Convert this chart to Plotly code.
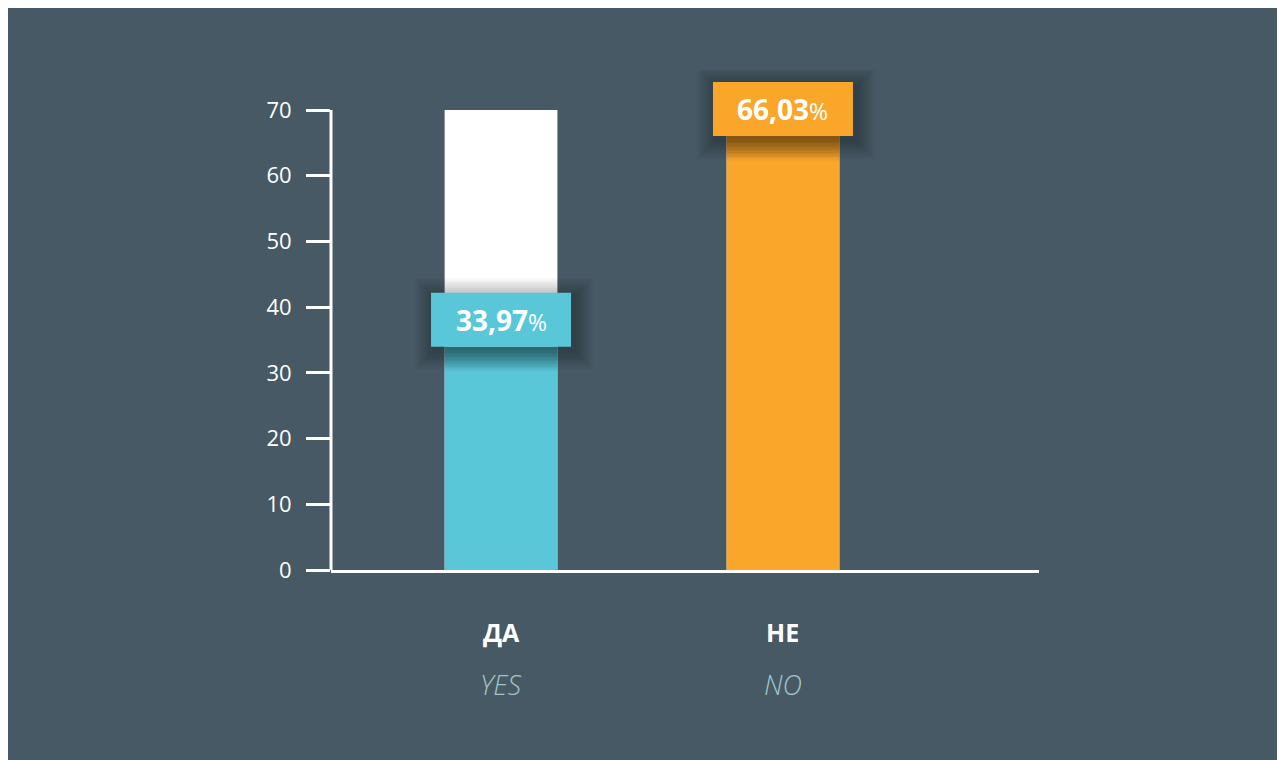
import plotly.graph_objects as go

# ---- data ----
categories = ["ДА", "НЕ"]
subtitles = ["YES", "NO"]
values = [33.97, 66.03]
scale_max = [70, 70]
tick_vals = [0, 10, 20, 30, 40, 50, 60, 70]

# ---- style ----
BG = "#475965"
TEAL = "#59c7d8"
ORANGE = "#f9a62b"
SUB = "#a1c5c6"
bar_colors = [TEAL, ORANGE]
FONT = "Open Sans"

W, H = 1277, 752
ML, MR, MT, MB = 323, 246, 62, 190
plot_w = W - ML - MR
plot_h = H - MT - MB
px_per_unit_y = 460 / 70.0
y_top = plot_h / px_per_unit_y
x_range = [-0.603, 1.908]
px_per_unit_x = plot_w / (x_range[1] - x_range[0])

def dx(px):
    return px / px_per_unit_x

def dy(px):
    return px / px_per_unit_y

fig = go.Figure()
fig.add_trace(go.Bar(x=categories, y=scale_max, marker=dict(color="#ffffff", line=dict(width=0)),
                     width=0.4, hoverinfo="skip", showlegend=False))
fig.add_trace(go.Bar(x=categories, y=values, marker=dict(color=bar_colors, line=dict(width=0)),
                     width=0.4, hoverinfo="skip", showlegend=False))

shapes = []
annotations = []
box_w = dx(140)
box_h = dy(54)
bar_half = 0.2
for i, (cat, v, col) in enumerate(zip(categories, values, bar_colors)):
    # shadow on bar under box
    for k in range(1, 8):
        shapes.append(dict(type="rect", xref="x", yref="y",
                           x0=i - bar_half, x1=i + bar_half, y0=v - dy(3.5 * k), y1=v,
                           fillcolor="rgba(0,0,0,0.045)", line=dict(width=0), layer="above"))
    # soft drop shadow around box
    for k in range(1, 9):
        s = 2.3 * k
        shapes.append(dict(type="rect", xref="x", yref="y",
                           x0=i - box_w / 2 - dx(s) + dx(3), x1=i + box_w / 2 + dx(s) + dx(3),
                           y0=v - dy(s) - dy(4), y1=v + box_h + dy(s) - dy(4),
                           fillcolor="rgba(0,0,0,0.035)", line=dict(width=0), layer="above"))
    shapes.append(dict(type="rect", xref="x", yref="y",
                       x0=i - box_w / 2, x1=i + box_w / 2, y0=v, y1=v + box_h,
                       fillcolor=col, line=dict(width=0), layer="above"))
    txt = f"{v:.2f}".replace(".", ",")
    annotations.append(dict(x=i, y=v + box_h / 2, xref="x", yref="y", showarrow=False,
                            text=f"<b>{txt}</b><span style='font-size:23px'>%</span>",
                            font=dict(family=FONT, size=28, color="#ffffff"),
                            xanchor="center", yanchor="middle"))
    annotations.append(dict(x=i, y=-62 / plot_h, xref="x", yref="paper", showarrow=False,
                            text=f"<b>{cat}</b>", font=dict(family=FONT, size=25, color="#ffffff"),
                            xanchor="center", yanchor="middle"))
    annotations.append(dict(x=i, y=-114 / plot_h, xref="x", yref="paper", showarrow=False,
                            text=f"<i>{subtitles[i]}</i>",
                            font=dict(family=FONT, size=27, color=SUB, weight=300),
                            xanchor="center", yanchor="middle"))

# y axis line from 0 to 70
shapes.append(dict(type="line", xref="paper", yref="y", x0=0, x1=0, y0=0, y1=tick_vals[-1],
                   line=dict(color="#ffffff", width=3), layer="above"))

fig.update_layout(
    width=W, height=H,
    margin=dict(l=ML, r=MR, t=MT, b=MB),
    paper_bgcolor=BG, plot_bgcolor=BG,
    barmode="overlay",
    shapes=shapes, annotations=annotations,
    font=dict(family=FONT, color="#ffffff"),
    xaxis=dict(range=x_range, showline=True, linecolor="#ffffff", linewidth=3,
               showticklabels=False, ticks="", showgrid=False, zeroline=False, fixedrange=True),
    yaxis=dict(range=[0, y_top], tickvals=tick_vals, ticks="outside", ticklen=24, tickwidth=3,
               tickcolor="#ffffff", showline=False, showgrid=False, zeroline=False,
               tickfont=dict(family=FONT, size=22, color="#ffffff"), ticklabelstandoff=10,
               fixedrange=True),
)

fig.write_html("out.html", config={"displayModeBar": False})
